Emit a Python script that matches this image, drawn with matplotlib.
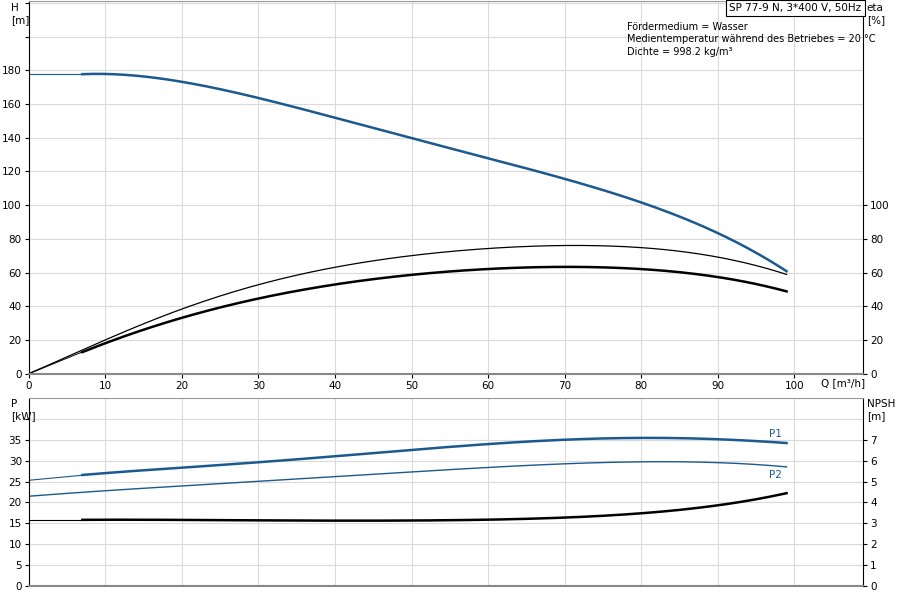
import numpy as np
import matplotlib.pyplot as plt
from matplotlib.ticker import FixedLocator, MultipleLocator

# head curve
q_h = [0, 7, 10, 20, 30, 40, 50, 60, 70, 80, 90, 99]
head = [178, 178, 177.5, 173, 164, 152, 139.5, 127.5, 116, 102, 83, 61]
# efficiencies
q_eta = [0, 7, 10, 20, 30, 40, 50, 60, 70, 74, 80, 90, 99]
eta_pump = [0, 14.5, 20, 38, 53, 63.5, 70, 74, 76, 76.3, 75, 69, 59]
q_eta2 = [0, 7, 10, 20, 30, 40, 50, 60, 70, 80, 90, 99]
eta_total = [0, 13, 18, 33, 45, 53, 58.5, 62, 63.5, 62.5, 57, 49]
# power
q_p = [0, 7, 10, 20, 30, 40, 50, 60, 70, 80, 90, 99]
p1 = [25.3, 26.5, 27, 28.4, 29.6, 31, 32.5, 34, 35, 35.4, 35.1, 34.2]
p2 = [21.5, 22.4, 22.8, 24, 25, 26.2, 27.3, 28.3, 29.3, 29.7, 29.5, 28.5]
npsh = [3.15, 3.15, 3.16, 3.2, 3.15, 3.12, 3.12, 3.18, 3.3, 3.48, 3.85, 4.45]

BLUE = "#1b5a8e"
GRID = "#dadada"
FS = 7.5

fig = plt.figure(figsize=(9, 6), dpi=100)
ax1 = fig.add_axes([0.032, 0.377, 0.927, 0.621])
ax2 = fig.add_axes([0.032, 0.023, 0.927, 0.314])


def smooth(x, y, start=None, deg=5):
    xs = np.linspace(x[0] if start is None else start, x[-1], 200)
    c = np.polyfit(x, y, deg)
    return xs, np.polyval(c, xs)


def style(ax):
    ax.set_xlim(0, 109)
    ax.xaxis.set_major_locator(MultipleLocator(10))
    ax.grid(True, color=GRID, linewidth=0.8)
    for s in ax.spines.values():
        s.set_color("#999")
    ax.spines["left"].set_color("black")
    ax.spines["right"].set_color("black")
    ax.spines["bottom"].set_color("#888")
    ax.spines["bottom"].set_linewidth(1.5)
    ax.tick_params(labelsize=FS, length=3, pad=2)


# top chart
style(ax1)
ax1.set_ylim(0, 221)
ax1.yaxis.set_major_locator(FixedLocator(range(0, 221, 20)))
ax1.set_yticklabels([str(v) if v <= 180 else "" for v in range(0, 221, 20)])
ax1.set_xticks(range(0, 101, 10))
ax1.set_xticklabels([str(v) for v in range(0, 101, 10)])
ax1.plot(*smooth(q_h[1:], head[1:]), color=BLUE, lw=1.8)
ax1.plot([0, 7], [178, 178], color=BLUE, lw=0.8)
ax1.plot(*smooth(q_eta, eta_pump, deg=6), color="black", lw=0.9)
xs, ys = smooth(q_eta2[1:], eta_total[1:])
ax1.plot(xs, ys, color="black", lw=1.8)
ax1.plot([0, 7], [0, 13], color="black", lw=0.7)
axr = ax1.twinx()
axr.set_ylim(0, 221)
axr.yaxis.set_major_locator(FixedLocator(range(0, 101, 20)))
axr.tick_params(labelsize=FS, length=3, pad=2)
for s in axr.spines.values():
    s.set_visible(False)

fig.text(0.012, 0.995, "H\n[m]", fontsize=FS, va="top", ha="left")
fig.text(0.963, 0.995, "eta\n[%]", fontsize=FS, va="top", ha="left")
fig.text(0.912, 0.362, "Q [m³/h]", fontsize=FS, va="center", ha="left")
ax1.text(0.998, 0.995, "SP 77-9 N, 3*400 V, 50Hz", transform=ax1.transAxes,
         fontsize=FS, ha="right", va="top",
         bbox=dict(boxstyle="square,pad=0.3", facecolor="white", edgecolor="black", lw=0.8))
ax1.text(0.717, 0.945, "Fördermedium = Wasser\nMedientemperatur während des Betriebes = 20 °C\nDichte = 998.2 kg/m³",
         transform=ax1.transAxes, fontsize=7, ha="left", va="top", linespacing=1.35)

# bottom chart
style(ax2)
ax2.set_ylim(0, 45)
ax2.yaxis.set_major_locator(FixedLocator(range(0, 41, 5)))
ax2.set_yticklabels([str(v) if v <= 35 else "" for v in range(0, 41, 5)])
ax2.set_xticklabels([])
ax2.tick_params(axis="x", length=0)
ax2.plot(*smooth(q_p, p1, start=7), color=BLUE, lw=1.8)
ax2.plot([0, 7], [25.3, 26.5], color=BLUE, lw=0.8)
ax2.plot(*smooth(q_p, p2), color=BLUE, lw=1.0)
ax2.text(97.5, 35.2, "P1", color=BLUE, fontsize=FS, ha="center", va="bottom")
ax2.text(97.5, 27.8, "P2", color=BLUE, fontsize=FS, ha="center", va="top")
ax2r = ax2.twinx()
ax2r.set_ylim(0, 9)
ax2r.yaxis.set_major_locator(FixedLocator(range(0, 8)))
ax2r.tick_params(labelsize=FS, length=3, pad=2)
for s in ax2r.spines.values():
    s.set_visible(False)
xs, ys = smooth(q_p, npsh, start=7)
ax2r.plot(xs, ys, color="black", lw=1.8)
ax2r.plot([0, 7], [3.15, 3.15], color="black", lw=0.8)
fig.text(0.012, 0.335, "P\n[kW]", fontsize=FS, va="top", ha="left")
fig.text(0.963, 0.335, "NPSH\n[m]", fontsize=FS, va="top", ha="left")

fig.savefig("out.png", dpi=100)
